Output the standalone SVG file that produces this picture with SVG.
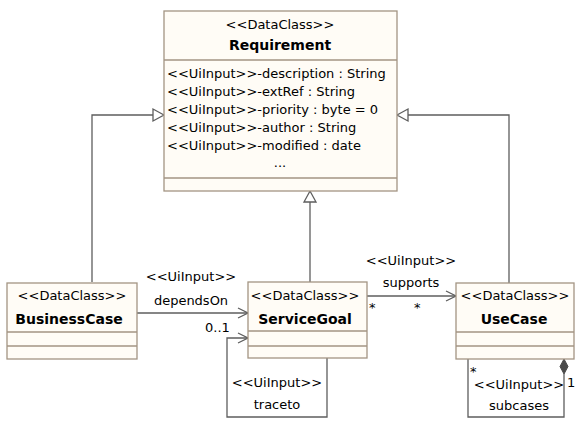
<svg xmlns="http://www.w3.org/2000/svg" width="575" height="421" viewBox="0 0 575 421">
  <style>
    .box { fill: #fffcf6; stroke: #a39483; stroke-width: 1.3; }
    .sep { stroke: #a39483; stroke-width: 1.3; fill: none; }
    .t { font-family: "DejaVu Sans", Verdana, sans-serif; font-size: 13px; fill: #000; }
    .b { font-family: "DejaVu Sans", Verdana, sans-serif; font-size: 14px; font-weight: bold; fill: #000; }
    .c { text-anchor: middle; }
    .edge { stroke: #5e5e5e; stroke-width: 1.3; fill: none; }
    .gen { stroke: #5e5e5e; stroke-width: 1.3; fill: #fff; }
  </style>
  <defs>
    <marker id="open" markerWidth="12" markerHeight="12" refX="11" refY="6" orient="auto" markerUnits="userSpaceOnUse">
      <path d="M1,1 L11,6 L1,11" fill="none" stroke="#5e5e5e" stroke-width="1.3"/>
    </marker>
  </defs>
  <rect width="575" height="421" fill="#fff"/>

  <!-- connectors -->
  <g id="connectors">
    <!-- generalizations -->
    <path class="edge" d="M92,282 V115 H153"/>
    <polygon class="gen" points="164,115 153,109 153,121"/>
    <path class="edge" d="M509,283 V115 H408"/>
    <polygon class="gen" points="397,115 408,109 408,121"/>
    <path class="edge" d="M310,282 V202"/>
    <polygon class="gen" points="310,191 304,202 316,202"/>

    <!-- dependsOn -->
    <path class="edge" d="M137,313 H248" marker-end="url(#open)"/>
    <text class="t c" x="191" y="281">&lt;&lt;UiInput&gt;&gt;</text>
    <text class="t c" x="191" y="305">dependsOn</text>
    <text class="t" x="205" y="332">0..1</text>

    <!-- traceto -->
    <path class="edge" d="M327,358 V417 H227 V338 H248" marker-end="url(#open)"/>
    <text class="t c" x="277" y="387">&lt;&lt;UiInput&gt;&gt;</text>
    <text class="t c" x="277" y="409">traceto</text>

    <!-- supports -->
    <path class="edge" d="M367,296 H456" marker-end="url(#open)"/>
    <text class="t c" x="411" y="265">&lt;&lt;UiInput&gt;&gt;</text>
    <text class="t c" x="411" y="287">supports</text>
    <text class="t" x="369" y="312">*</text>
    <text class="t" x="414" y="312">*</text>

    <!-- subcases (composition) -->
    <path class="edge" d="M468,359 V417 H564 V374"/>
    <polygon points="564,359 568,366.5 564,374 560,366.5" fill="#4a4a4a" stroke="#4a4a4a" stroke-width="1"/>
    <text class="t" x="470" y="376">*</text>
    <text class="t" x="567" y="387" font-size="12">1</text>
    <text class="t c" x="519" y="389">&lt;&lt;UiInput&gt;&gt;</text>
    <text class="t c" x="519" y="410">subcases</text>
  </g>

  <!-- Requirement -->
  <g id="Requirement">
    <rect class="box" x="164" y="11" width="233" height="180"/>
    <line class="sep" x1="164" y1="60" x2="397" y2="60"/>
    <line class="sep" x1="164" y1="178" x2="397" y2="178"/>
    <text class="t c" x="280" y="29">&lt;&lt;DataClass&gt;&gt;</text>
    <text class="b c" x="280" y="50">Requirement</text>
    <text class="t" x="167" y="78">&lt;&lt;UiInput&gt;&gt;-description : String</text>
    <text class="t" x="167" y="96">&lt;&lt;UiInput&gt;&gt;-extRef : String</text>
    <text class="t" x="167" y="114">&lt;&lt;UiInput&gt;&gt;-priority : byte = 0</text>
    <text class="t" x="167" y="132">&lt;&lt;UiInput&gt;&gt;-author : String</text>
    <text class="t" x="167" y="150">&lt;&lt;UiInput&gt;&gt;-modified : date</text>
    <text class="t c" x="280" y="167">...</text>
  </g>

  <!-- BusinessCase -->
  <g id="BusinessCase">
    <rect class="box" x="7" y="283" width="130" height="76"/>
    <line class="sep" x1="7" y1="332" x2="137" y2="332"/>
    <line class="sep" x1="7" y1="346" x2="137" y2="346"/>
    <text class="t c" x="72" y="300">&lt;&lt;DataClass&gt;&gt;</text>
    <text class="b c" x="69" y="324">BusinessCase</text>
  </g>

  <!-- ServiceGoal -->
  <g id="ServiceGoal">
    <rect class="box" x="248" y="282" width="119" height="76"/>
    <line class="sep" x1="248" y1="331" x2="367" y2="331"/>
    <line class="sep" x1="248" y1="346" x2="367" y2="346"/>
    <text class="t c" x="305" y="300">&lt;&lt;DataClass&gt;&gt;</text>
    <text class="b c" x="305" y="324">ServiceGoal</text>
  </g>

  <!-- UseCase -->
  <g id="UseCase">
    <rect class="box" x="456" y="283" width="118" height="76"/>
    <line class="sep" x1="456" y1="332" x2="574" y2="332"/>
    <line class="sep" x1="456" y1="346" x2="574" y2="346"/>
    <text class="t c" x="515" y="300">&lt;&lt;DataClass&gt;&gt;</text>
    <text class="b c" x="514" y="324">UseCase</text>
  </g>
</svg>
